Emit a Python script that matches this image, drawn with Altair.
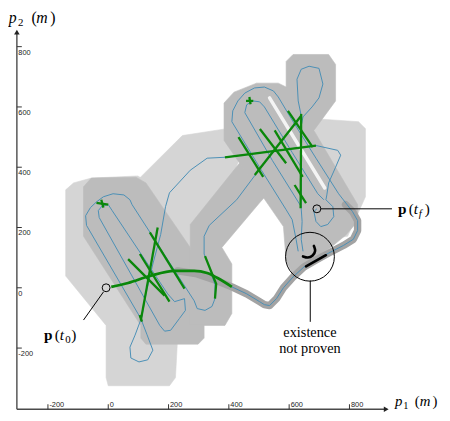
import altair as alt
import pandas as pd

# ---------------- data (metres) ----------------
X_DOMAIN = [-303, 963]
Y_DOMAIN = [-403, 870]
X_TICKS = [-200, 0, 200, 400, 600, 800]
Y_TICKS = [-200, 0, 200, 400, 600, 800]

LIGHT_LEFT = [(-141, 325), (-115, 348), (-56, 364), (98, 371), (131, 351), (269, 138), (230, -167),
              (223, -298), (203, -325), (0, -325), (-7, -298), (-7, -125), (-141, 39)]
LIGHT_BAND = [(98, 358), (246, 505), (394, 528), (459, 489), (344, 194), (279, 128), (164, 177)]
LIGHT_RIGHT = [(682, 561), (830, 551), (853, 528), (853, 302), (794, 171), (722, 161), (689, 292)]

DARK_L1 = [(-82, 335), (-56, 364), (92, 367), (125, 348), (269, 138), (318, 30), (318, -167),
           (298, -187), (125, -187), (108, -167), (108, -125), (-82, 171)]
DARK_T3 = [(272, -125), (272, 210), (443, 423), (525, 308), (502, 282), (377, 134), (410, 79),
           (410, -85), (387, -125)]
DARK_L2 = [(384, 613), (417, 649), (492, 679), (564, 679), (590, 666), (590, 751), (613, 774),
           (731, 774), (754, 741), (754, 620), (682, 522), (827, 276), (827, 220), (787, 174),
           (738, 134), (689, 102), (640, 62), (613, 43), (590, 89), (581, 203), (384, 489)]

SLIT = [(535, 630), (718, 331)]

NARROW = [(230, 56), (295, 46), (361, 23), (410, 3), (459, -20), (502, -46), (518, -56), (535, -59),
          (558, -36), (581, 0), (613, 36), (649, 69), (689, 92), (731, 115), (781, 141), (813, 161),
          (827, 190), (827, 223), (810, 253), (787, 276)]

PATH_A = [(692, 262), (682, 253), (689, 220), (705, 203), (728, 210), (748, 236), (745, 269),
          (722, 292), (725, 308), (731, 348), (754, 400), (771, 440), (761, 456), (689, 472),
          (387, 433), (328, 430), (272, 390), (203, 315), (190, 269), (174, 177), (148, 79),
          (125, -20), (112, -95), (89, -157), (72, -197), (75, -233), (102, -246), (131, -239),
          (148, -207), (128, -154), (108, -102), (-72, 207), (-75, 239), (-59, 266), (-39, 285),
          (-16, 302), (16, 312), (52, 308), (72, 292), (79, 276), (285, -43), (295, -69), (321, -75),
          (344, -62), (354, -36), (354, 10), (335, 69), (318, 112), (318, 171), (335, 207),
          (426, 292), (485, 371), (564, 472), (640, 571), (630, 620), (626, 692), (640, 725),
          (666, 735), (699, 728), (712, 676), (699, 630), (676, 600), (646, 567), (640, 538),
          (640, 262), (643, 220), (640, 161), (646, 121)]
PATH_B = [(13, 256), (197, -20), (220, -46), (253, -36), (256, -75), (236, -102), (207, -141),
          (187, -144), (171, -125), (-30, 233), (-33, 256), (-20, 272), (0, 276), (13, 256)]
PATH_C = [(410, 3), (459, -20), (502, -46), (518, -56), (535, -59), (558, -36), (581, 0), (613, 36),
          (649, 69), (689, 92), (731, 115), (781, 141), (813, 161), (827, 190), (827, 223),
          (810, 253), (764, 312), (689, 430), (607, 561), (564, 633), (548, 653), (518, 666),
          (485, 663), (453, 646), (430, 620), (413, 587), (410, 551), (508, 390), (590, 259),
          (610, 226), (623, 161), (630, 121)]
PATH_D = [(640, 269), (544, 423), (453, 581), (459, 607), (479, 620), (502, 617), (518, 600),
          (610, 449), (695, 312), (715, 292)]

GREEN_CURVE = [(10, 3), (66, 16), (138, 39), (220, 56), (285, 56), (328, 49), (361, 33), (410, 3)]
GREEN_SEGS = [
    [(164, 200), (108, -108)], [(138, 184), (253, -3)], [(66, 95), (187, -26)],
    [(105, 112), (203, -46)], [(321, 105), (351, 30), (358, 13), (354, -36)],
    [(-39, 282), (0, 276)], [(-23, 292), (-16, 266)], [(104, -91), (112, -112)],
    [(387, 433), (689, 472)], [(432, 500), (514, 368)], [(503, 527), (590, 413)],
    [(552, 522), (645, 368)], [(596, 587), (678, 467)], [(618, 341), (656, 281)],
    [(486, 374), (640, 571)], [(640, 577), (638, 264)], [(457, 620), (481, 620)],
    [(468, 633), (472, 609)],
]
BLACK_SEGS = [[(682, 139), (689, 122), (679, 106), (662, 98), (646, 104)], [(656, 71), (722, 108)]]

SMALL_CIRCLES = [(-7, 0), (692, 262)]
BIG_CIRCLE = [(669, 103)]
LEADERS = [[(-16, -14), (-82, -107)], [(705, 262), (941, 262)], [(670, 24), (670, -113)]]

X_AXIS = [(-303, -403, 918)]
Y_AXIS = [(-303, -403, 843)]
X_ARROW = [(922, -403)]
Y_ARROW = [(-303, 848)]

NOTE_TEXT = ["existence", "not proven"]
NOTE_POS = [(669, -164), (669, -218)]


# ---------------- helpers ----------------
def frame(shapes):
    rows = []
    for sid, pts in enumerate(shapes):
        for i, (x, y) in enumerate(pts):
            rows.append({"sid": sid, "i": i, "x": x, "y": y})
    return pd.DataFrame(rows)


xs = alt.Scale(domain=X_DOMAIN, nice=False, zero=False)
ys = alt.Scale(domain=Y_DOMAIN, nice=False, zero=False)
EX = alt.X("x:Q", scale=xs, axis=None)
EY = alt.Y("y:Q", scale=ys, axis=None)


def paths(shapes, **mark):
    return alt.Chart(frame(shapes)).mark_line(**mark).encode(
        EX, EY, detail="sid:N", order="i:Q")


def polys(shapes, color):
    return paths(shapes, interpolate="linear-closed", fill=color, stroke=color, strokeWidth=0.6)


def pts(points):
    return pd.DataFrame([{"x": x, "y": y} for x, y in points])


SERIF = "Liberation Serif"


def piece(pos, text, dx, dy=0, size=15.5, weight="normal", style="normal", align="left"):
    df = pd.DataFrame([{"x": pos[0], "y": pos[1], "t": text}])
    return alt.Chart(df).mark_text(
        align=align, baseline="alphabetic", dx=dx, dy=dy, fontSize=size, font=SERIF,
        fontWeight=weight, fontStyle=style, color="black").encode(EX, EY, text="t:N")


layers = []
layers.append(polys([LIGHT_LEFT, LIGHT_BAND, LIGHT_RIGHT], "#d5d5d5"))
layers.append(polys([DARK_L1, DARK_T3, DARK_L2], "#bcbcbc"))
layers.append(paths([SLIT], color="#f4f4f4", strokeWidth=3.5, strokeCap="round"))
layers.append(paths([NARROW], color="#a3a3a3", strokeWidth=7.5, strokeCap="round", strokeJoin="round"))
layers.append(paths([PATH_A, PATH_B, PATH_C, PATH_D], color="#4a8fb6", strokeWidth=1))
layers.append(paths(GREEN_SEGS, color="#0a870a", strokeWidth=2.3))
layers.append(paths([GREEN_CURVE], color="#0a870a", strokeWidth=2.8, interpolate="monotone"))
layers.append(paths(BLACK_SEGS, color="black", strokeWidth=2.6, strokeCap="round", interpolate="basis"))
layers.append(alt.Chart(pts(SMALL_CIRCLES)).mark_point(
    shape="circle", size=64, filled=False, stroke="black", strokeWidth=1, opacity=1).encode(EX, EY))
layers.append(alt.Chart(pts(BIG_CIRCLE)).mark_point(
    shape="circle", size=2450, filled=False, stroke="black", strokeWidth=1, opacity=1).encode(EX, EY))
layers.append(paths(LEADERS, color="black", strokeWidth=1))

# axes
ax = pd.DataFrame([{"x": a, "y": b, "x2": c} for a, b, c in X_AXIS])
layers.append(alt.Chart(ax).mark_rule(color="#4a4a4a", strokeWidth=1.4).encode(EX, EY, x2="x2:Q"))
ay = pd.DataFrame([{"x": a, "y": b, "y2": c} for a, b, c in Y_AXIS])
layers.append(alt.Chart(ay).mark_rule(color="#4a4a4a", strokeWidth=1.4).encode(EX, EY, y2="y2:Q"))
layers.append(alt.Chart(pts(X_ARROW)).mark_point(
    shape="triangle-right", size=32, filled=True, color="#222", opacity=1).encode(EX, EY))
layers.append(alt.Chart(pts(Y_ARROW)).mark_point(
    shape="triangle-up", size=32, filled=True, color="#222", opacity=1).encode(EX, EY))

xt = pd.DataFrame({"x": X_TICKS, "y": [Y_DOMAIN[0]] * len(X_TICKS), "label": [str(v) for v in X_TICKS]})
yt = pd.DataFrame({"x": [X_DOMAIN[0]] * len(Y_TICKS), "y": Y_TICKS, "label": [str(v) for v in Y_TICKS]})
layers.append(alt.Chart(xt).mark_tick(orient="vertical", size=5, thickness=1, yOffset=-2.5,
                                      color="#333", opacity=1).encode(EX, EY))
layers.append(alt.Chart(yt).mark_tick(orient="horizontal", size=5, thickness=1, xOffset=2.5,
                                      color="#333", opacity=1).encode(EX, EY))
layers.append(alt.Chart(xt).mark_text(align="left", baseline="alphabetic", dx=1.5, dy=-2.5,
                                      fontSize=7.5, font="Liberation Sans", color="#222").encode(
    EX, EY, text="label:N"))
layers.append(alt.Chart(yt).mark_text(align="left", baseline="top", dx=1.5, dy=2,
                                      fontSize=7.5, font="Liberation Sans", color="#222").encode(
    EX, EY, text="label:N"))

# axis titles
P2 = (-330, 880)
layers += [piece(P2, "p", 0, style="italic", size=16), piece(P2, "2", 9.5, dy=3, size=11),
           piece(P2, "(", 23, size=16), piece(P2, "m", 28, style="italic", size=16),
           piece(P2, ")", 42, size=16)]
P1 = (951, -393)
layers += [piece(P1, "p", 0, style="italic", size=15), piece(P1, "1", 8.5, dy=2.5, size=10.5),
           piece(P1, "(", 20, size=15), piece(P1, "m", 25, style="italic", size=15),
           piece(P1, ")", 38, size=15)]

# annotations
T0 = (-213, -174)
layers += [piece(T0, "p", 0, weight="bold"), piece(T0, "(", 11), piece(T0, "t", 16, style="italic"),
           piece(T0, "0", 21.5, dy=3, size=11), piece(T0, ")", 27.5)]
TF = (961, 246)
layers += [piece(TF, "p", 0, weight="bold"), piece(TF, "(", 11), piece(TF, "t", 16, style="italic"),
           piece(TF, "f", 21, dy=3, size=11, style="italic"), piece(TF, ")", 27)]
for txt, pos in zip(NOTE_TEXT, NOTE_POS):
    layers.append(piece(pos, txt, 0, size=14.5, align="center"))

chart = alt.layer(*layers).properties(
    width=387, height=389,
    padding={"left": 9, "top": 15, "right": 44, "bottom": 1},
    autosize=alt.AutoSizeParams(type="none"),
    background="white",
).configure_view(strokeWidth=0)

chart.save("out.html", embed_options={"renderer": "svg", "actions": False})
